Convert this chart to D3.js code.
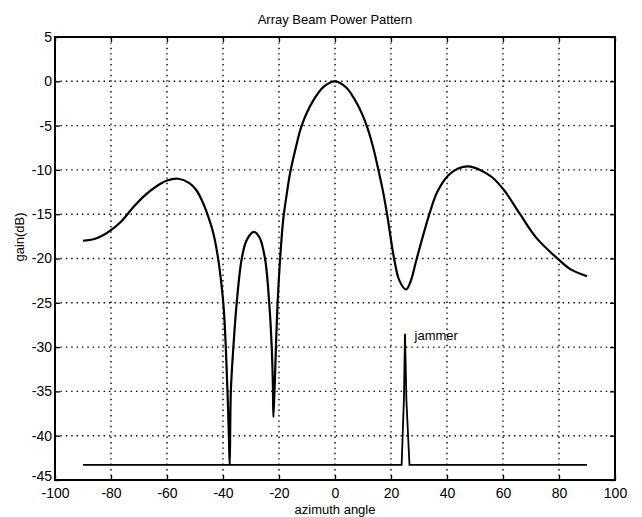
<!DOCTYPE html>
<html>
<head>
<meta charset="utf-8">
<script src="https://cdn.jsdelivr.net/npm/d3@7.9.0/dist/d3.min.js"></script>
<style>
  body { margin: 0; background: #fff; }
  svg { font-family: "Liberation Sans", Arial, Helvetica, sans-serif; }
</style>
</head>
<body>
<svg id="chart" width="642" height="517"></svg>
<script>
// beam pattern (azimuth deg, gain dB)
const patternAz = [-90, -86, -83, -80, -76, -72, -68, -64, -60, -56, -52, -49.5, -47.6, -45.8, -43.5, -41.8,
  -39.9, -39, -38.4, -37.9, -37.6, -37.2, -36.3, -35.1, -33.3, -31.5, -29, -27, -25, -23.5, -22.6,
  -22.2, -22, -21.5, -21.1, -20.5, -19.6, -18.5, -17.5, -16, -14, -11.9, -8, -4, 0, 4, 8, 11.3, 13.5,
  15.5, 17, 18.6, 21.1, 23, 25.4, 27, 29.2, 33.7, 36.5, 40.5, 44, 47.6, 51.8, 56, 60.4, 66.1, 72,
  79.8, 84, 90];
const patternGain = [-18.0, -17.8, -17.4, -16.8, -15.7, -14.2, -12.9, -11.9, -11.2, -11.0, -11.5, -12.3, -13.4, -14.8, -17.1, -19.9,
  -25, -30, -35, -40, -43.3, -35, -30, -25, -20, -17.9, -17.0, -17.6, -20, -25, -30,
  -34, -37.9, -34, -30, -25, -20, -15.6, -13.3, -10.3, -7.5, -5, -2.3, -0.6, 0, -0.7, -2.6, -5, -7.3,
  -10, -12.2, -15, -20, -22.5, -23.5, -22.6, -20, -15, -12.5, -10.6, -9.85, -9.6, -10, -10.8, -12.3, -15, -17.7,
  -20.1, -21.2, -22.0];

// jammer indicator line
const jammerAz = [-90, 23.8, 24.6, 25, 25.5, 26.6, 90];
const jammerGain = [-43.3, -43.3, -36, -28.5, -36, -43.3, -43.3];

const xTicks = [-100, -80, -60, -40, -20, 0, 20, 40, 60, 80, 100];
const yTicks = [5, 0, -5, -10, -15, -20, -25, -30, -35, -40, -45];

const svg = d3.select("#chart");
const margin = { top: 37, right: 27, bottom: 37, left: 55 };
const width = 642 - margin.left - margin.right;
const height = 517 - margin.top - margin.bottom;

const g = svg.append("g").attr("transform", `translate(${margin.left},${margin.top})`);

const x = d3.scaleLinear().domain([-100, 100]).range([0, width]);
const y = d3.scaleLinear().domain([-45, 5]).range([height, 0]);

// dotted grid
g.append("g")
  .selectAll("line")
  .data(xTicks.slice(1, -1))
  .join("line")
  .attr("x1", d => x(d)).attr("x2", d => x(d))
  .attr("y1", 0).attr("y2", height)
  .attr("stroke", "#000")
  .attr("stroke-width", 1.4)
  .attr("stroke-dasharray", "1.4,4");

g.append("g")
  .selectAll("line")
  .data(yTicks.slice(1, -1))
  .join("line")
  .attr("x1", 0).attr("x2", width)
  .attr("y1", d => y(d)).attr("y2", d => y(d))
  .attr("stroke", "#000")
  .attr("stroke-width", 1.4)
  .attr("stroke-dasharray", "1.4,4");

// axes with inward ticks, plain hyphen minus like the original
const fmt = d => String(d);
const xAxis = g.append("g")
  .attr("transform", `translate(0,${height})`)
  .call(d3.axisBottom(x).tickValues(xTicks).tickSize(-5).tickPadding(8).tickFormat(fmt));
const yAxis = g.append("g")
  .call(d3.axisLeft(y).tickValues(yTicks).tickSize(-5).tickPadding(3).tickFormat(fmt));
g.append("g")
  .call(d3.axisTop(x).tickValues(xTicks).tickSize(-5).tickFormat(""));
g.append("g")
  .attr("transform", `translate(${width},0)`)
  .call(d3.axisRight(y).tickValues(yTicks).tickSize(-5).tickFormat(""));

g.selectAll(".domain").remove();
g.selectAll(".tick line").attr("stroke", "#000").attr("stroke-width", 1.3);
g.selectAll(".tick text")
  .attr("fill", "#000")
  .attr("font-size", "14px")
  .attr("font-family", "Liberation Sans, Arial, sans-serif");
xAxis.selectAll(".tick text").attr("dy", "0.71em");
// bottom y label sits a little higher so it clears -100
yAxis.selectAll(".tick text").filter(d => d === -45).attr("dy", "0.05em");

g.append("rect")
  .attr("width", width).attr("height", height)
  .attr("fill", "none")
  .attr("stroke", "#000")
  .attr("stroke-width", 2);

// jammer floor + spike
const jamLine = d3.line()
  .x((d, i) => x(jammerAz[i]))
  .y(d => y(d));
g.append("path")
  .datum(jammerGain)
  .attr("fill", "none")
  .attr("stroke", "#000")
  .attr("stroke-width", 1.8)
  .attr("d", jamLine);

// beam pattern
const beamLine = d3.line()
  .x((d, i) => x(patternAz[i]))
  .y(d => y(d))
  .curve(d3.curveCatmullRom.alpha(0.5));
g.append("path")
  .datum(patternGain)
  .attr("fill", "none")
  .attr("stroke", "#000")
  .attr("stroke-width", 2.2)
  .attr("stroke-linejoin", "round")
  .attr("d", beamLine);

g.append("text")
  .attr("x", x(28.4))
  .attr("y", y(-29.2))
  .attr("font-size", "13px")
  .text("jammer");

// title and labels
svg.append("text")
  .attr("x", margin.left + width / 2)
  .attr("y", 24)
  .attr("text-anchor", "middle")
  .attr("font-size", "13px")
  .text("Array Beam Power Pattern");

svg.append("text")
  .attr("x", margin.left + width / 2)
  .attr("y", 514)
  .attr("text-anchor", "middle")
  .attr("font-size", "13px")
  .text("azimuth angle");

svg.append("text")
  .attr("transform", "rotate(-90)")
  .attr("x", -237)
  .attr("y", 24)
  .attr("text-anchor", "middle")
  .attr("font-size", "13px")
  .text("gain(dB)");
</script>
</body>
</html>
